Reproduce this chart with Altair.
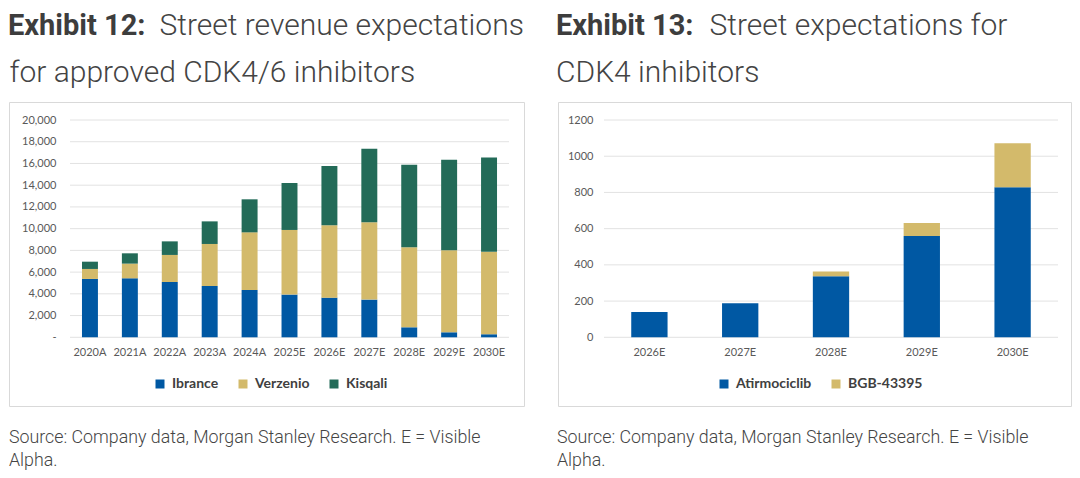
import altair as alt
import pandas as pd

W, H = 1064, 462

# ---------------- data ----------------
years12 = ["2020A", "2021A", "2022A", "2023A", "2024A", "2025E", "2026E",
           "2027E", "2028E", "2029E", "2030E"]
drugs12 = ["Ibrance", "Verzenio", "Kisqali"]
ibrance = [5370, 5430, 5090, 4720, 4360, 3930, 3650, 3470, 920, 460, 280]
verzenio = [920, 1350, 2490, 3870, 5300, 5950, 6660, 7110, 7360, 7550, 7600]
kisqali = [670, 950, 1250, 2080, 3040, 4320, 5460, 6780, 7610, 8340, 8680]
colors12 = ["#0058A3", "#D3BA6B", "#236B58"]
ticks12 = [0, 2000, 4000, 6000, 8000, 10000, 12000, 14000, 16000, 18000, 20000]

years13 = ["2026E", "2027E", "2028E", "2029E", "2030E"]
drugs13 = ["Atirmociclib", "BGB-43395"]
atirmociclib = [140, 188, 337, 560, 828]
bgb43395 = [0, 0, 27, 71, 243]
colors13 = ["#0058A3", "#D3BA6B"]
ticks13 = [0, 200, 400, 600, 800, 1000, 1200]


def long_df(years, names, series):
    rows = []
    for k, (name, vals) in enumerate(zip(names, series)):
        for yr, v in zip(years, vals):
            rows.append({"year": yr, "drug": name, "value": v, "ord": k})
    return pd.DataFrame(rows)


df12 = long_df(years12, drugs12, [ibrance, verzenio, kisqali])
df13 = long_df(years13, drugs13, [atirmociclib, bgb43395])

FONT = "Lato"
TFONT = "Roboto"
AX_COLOR = "#595959"
GRID = "#e2e2e2"
BOX = "#d9d9d9"

Y0, Y1 = 329.3, 112.0   # pixel positions of axis zero / top


def panel(df, years, names, colors, ticks, xr, ymax, lab_expr, ypad, leg_x):
    yscale = alt.Scale(domain=[0, ymax], range=[Y0, Y1], nice=False, zero=True)
    yaxis = alt.Axis(orient="left", offset=-xr[0], values=ticks, grid=False,
                     domain=False, ticks=False, labelPadding=ypad,
                     labelFont=FONT, labelFontSize=11, labelColor=AX_COLOR,
                     labelExpr=lab_expr, title=None)
    xscale = alt.Scale(domain=years, range=xr, paddingInner=0.6, paddingOuter=0.3)
    xaxis = alt.Axis(orient="bottom", offset=Y0 - H, domain=False, ticks=False,
                     labelPadding=9, labelAngle=0, labelFont=FONT,
                     labelFontSize=11, labelColor=AX_COLOR, title=None)
    grid = alt.Chart(pd.DataFrame({"v": ticks})).mark_rule(
        color=GRID, strokeWidth=1
    ).encode(
        y=alt.Y("v:Q", scale=yscale, axis=yaxis, title=None),
        x=alt.value(xr[0]),
        x2=alt.value(xr[1]),
    )
    bars = alt.Chart(df).mark_bar(strokeWidth=0).encode(
        x=alt.X("year:N", sort=years, scale=xscale, axis=xaxis, title=None),
        y=alt.Y("value:Q", stack="zero", scale=yscale, axis=yaxis, title=None),
        color=alt.Color(
            "drug:N",
            scale=alt.Scale(domain=names, range=colors),
            legend=alt.Legend(
                orient="none", legendX=leg_x, legendY=369, direction="horizontal",
                title=None, symbolType="square", symbolSize=81,
                symbolStrokeWidth=0, symbolOpacity=1, labelFont=FONT,
                labelFontSize=14, labelFontWeight="bold", labelColor="#404040",
                columnPadding=17, labelOffset=5, padding=0,
            ),
        ),
        order=alt.Order("ord:Q", sort="ascending"),
    )
    return alt.layer(grid, bars)


left = panel(df12, years12, drugs12, colors12, ticks12, [62, 501], 20000,
             "datum.value == 0 ? '-\u00a0\u00a0' : format(datum.value, ',')", 14, 145)
right = panel(df13, years13, drugs13, colors13, ticks13, [596, 1050], 1200,
              "format(datum.value, 'd')", 11, 709)

one = pd.DataFrame({"_": [0]})


def box(x0, x1):
    return alt.Chart(one).mark_rect(
        fill="#ffffff", fillOpacity=0, stroke=BOX, strokeWidth=1
    ).encode(x=alt.value(x0), x2=alt.value(x1), y=alt.value(94.5), y2=alt.value(398.5))


def txt(s, x, y, size, weight, color):
    return alt.Chart(one).mark_text(
        text=s, align="left", baseline="alphabetic", font=TFONT,
        fontSize=size, fontWeight=weight, color=color
    ).encode(x=alt.value(x), y=alt.value(y))


TC = "#3d3d3d"
LC = "#444444"
texts = [
    txt("Exhibit 12:", 0, 27, 29, "bold", TC),
    txt("Street revenue expectations", 151.5, 27, 30, 300, LC),
    txt("for approved CDK4/6 inhibitors", 1.5, 73.5, 30, 300, LC),
    txt("Exhibit 13:", 548, 27, 29, "bold", TC),
    txt("Street expectations for", 701.5, 27, 30, 300, LC),
    txt("CDK4 inhibitors", 548, 73.5, 30, 300, LC),
    txt("Source: Company data, Morgan Stanley Research. E = Visible", 1, 434.7, 17.8, 300, LC),
    txt("Alpha.", 1, 457.5, 17.8, 300, LC),
    txt("Source: Company data, Morgan Stanley Research. E = Visible", 549, 434.7, 17.8, 300, LC),
    txt("Alpha.", 549, 457.5, 17.8, 300, LC),
]

chart = alt.layer(
    box(1.5, 516.5), box(550.5, 1063.5), left, right, *texts
).resolve_scale(
    x="independent", y="independent", color="independent"
).properties(
    width=W, height=H, padding=0, autosize=alt.AutoSizeParams(type="none")
).configure_view(stroke=None)

chart.save("out.html", embed_options={"renderer": "svg", "actions": False})
